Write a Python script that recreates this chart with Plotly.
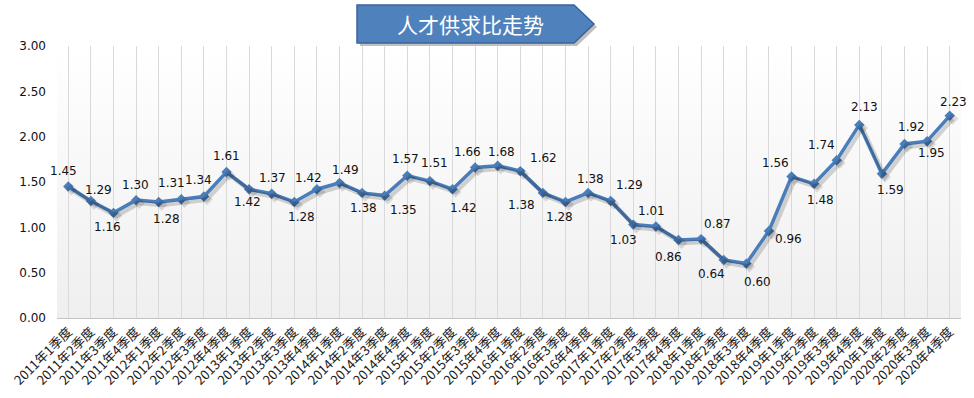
import base64
import plotly.graph_objects as go

years = [2011, 2012, 2013, 2014, 2015, 2016, 2017, 2018, 2019, 2020]
quarters = [1, 2, 3, 4]
categories = [f"{y}年{q}季度" for y in years for q in quarters]

ratio = [1.45, 1.29, 1.16, 1.30,
         1.28, 1.31, 1.34, 1.61,
         1.42, 1.37, 1.28, 1.42,
         1.49, 1.38, 1.35, 1.57,
         1.51, 1.42, 1.66, 1.68,
         1.62, 1.38, 1.28, 1.38,
         1.29, 1.03, 1.01, 0.86,
         0.87, 0.64, 0.60, 0.96,
         1.56, 1.48, 1.74, 2.13,
         1.59, 1.92, 1.95, 2.23]

y_ticks = [0.0, 0.5, 1.0, 1.5, 2.0, 2.5, 3.0]
title_text = "人才供求比走势"

# label offsets in pixels (dx, dy; dy positive = downward) -- style only
label_offsets = [(-5, -16), (8, -11), (-6, 14), (-1, -15),
                 (8, 17), (-10, -16), (-5, -17), (0, -16),
                 (-2, 13), (1, -16), (7, 15), (-8, -11),
                 (6, -13), (1, 15), (19, 14), (-2, -17),
                 (5, -18), (11, 19), (-8, -15), (4, -14),
                 (23, -13), (-21, 12), (-6, 15), (2, -14),
                 (19, -16), (-10, 15), (-4, -15), (-10, 17),
                 (16, -15), (-12, 14), (11, 18), (20, 8),
                 (-16, -14), (6, 16), (-15, -15), (5, -18),
                 (9, 16), (7, -17), (4, 12), (4, -14)]

# plot-area pixel geometry
W, H = 974, 398
L, R, T, B = 57, 13, 46, 80
pw, ph = W - L - R, H - T - B

def px(x):
    return (x - L) / pw

def py(y):
    return (H - B - y) / ph

LINE = "#4a7ebb"
XR = [-0.5, 39.5]
YR = [0, 3]
# shadow offset (pixels) expressed through shifted axis ranges
sdx, sdy = 3, 3
ux = (XR[1] - XR[0]) / pw
uy = (YR[1] - YR[0]) / ph

fig = go.Figure()
fig.add_trace(go.Scatter(
    x=categories, y=ratio, mode="lines+markers", xaxis="x2", yaxis="y2",
    line=dict(color="rgba(0,0,0,0.16)", width=4.5),
    marker=dict(symbol="diamond", size=9, color="rgba(0,0,0,0.12)"),
    hoverinfo="skip", showlegend=False,
))
fig.add_trace(go.Scatter(
    x=categories, y=ratio, mode="lines+markers",
    line=dict(color=LINE, width=3.5),
    marker=dict(symbol="diamond", size=8, color=LINE),
    hoverinfo="x+y", showlegend=False,
))

annotations = []
for c, v, (dx, dy) in zip(categories, ratio, label_offsets):
    annotations.append(dict(
        x=c, y=v, xref="x", yref="y", text=f"{v:.2f}", showarrow=False,
        xshift=dx, yshift=-dy,
        font=dict(family="DejaVu Sans", size=12, color="#111111"),
    ))

# title banner (pentagon arrow)
bx0, bx1, btip, by0, by1 = 357, 574, 594, 5, 43
bym = (by0 + by1) / 2
shadow = f"M {px(bx0+3)},{py(by0+3)} L {px(bx1+3)},{py(by0+3)} L {px(btip+3)},{py(bym+3)} L {px(bx1+3)},{py(by1+3)} L {px(bx0+3)},{py(by1+3)} Z"
banner = f"M {px(bx0)},{py(by0)} L {px(bx1)},{py(by0)} L {px(btip)},{py(bym)} L {px(bx1)},{py(by1)} L {px(bx0)},{py(by1)} Z"
shapes = [
    dict(type="path", xref="paper", yref="paper", path=shadow,
         fillcolor="rgba(0,0,0,0.25)", line=dict(width=0), layer="above"),
    dict(type="path", xref="paper", yref="paper", path=banner,
         fillcolor="#4f81bd", line=dict(color="#3a639a", width=1.5), layer="above"),
]
annotations.append(dict(
    x=px(470), y=py(bym), xref="paper", yref="paper", text=title_text,
    showarrow=False, xanchor="center", yanchor="middle",
    font=dict(family="Noto Sans CJK SC", size=21, color="white"),
))

# gradient background for plot area
svg = ('<svg xmlns="http://www.w3.org/2000/svg" width="100" height="100" preserveAspectRatio="none">'
       '<defs><linearGradient id="g" x1="0" y1="0" x2="0" y2="1">'
       '<stop offset="0" stop-color="#ffffff"/><stop offset="1" stop-color="#efefef"/>'
       '</linearGradient></defs><rect width="100" height="100" fill="url(#g)"/></svg>')
img_src = "data:image/svg+xml;base64," + base64.b64encode(svg.encode()).decode()

fig.update_layout(
    width=W, height=H,
    margin=dict(l=L, r=R, t=T, b=B, pad=0, autoexpand=False),
    paper_bgcolor="white", plot_bgcolor="rgba(0,0,0,0)",
    shapes=shapes, annotations=annotations,
    images=[dict(source=img_src, xref="paper", yref="paper", x=0, y=1,
                 sizex=1, sizey=1, sizing="stretch", layer="below",
                 xanchor="left", yanchor="top")],
    xaxis=dict(
        type="category", range=XR, showgrid=True, gridcolor="#d9d9d9",
        gridwidth=1, showline=True, linecolor="#c4c4c4", linewidth=1,
        ticks="", tickangle=-45, zeroline=False, automargin=False,
        tickfont=dict(family="Noto Sans CJK SC", size=13, color="#1a1a1a"),
    ),
    yaxis=dict(
        range=YR, tickvals=y_ticks, ticktext=[f"{t:.2f}" for t in y_ticks],
        showgrid=False, zeroline=False, showline=False, ticks="",
        ticklabelstandoff=10, automargin=False,
        tickfont=dict(family="DejaVu Sans", size=12, color="#111111"),
    ),
    xaxis2=dict(type="category", overlaying="x", range=[XR[0] - sdx * ux, XR[1] - sdx * ux],
                visible=False, categoryarray=categories, categoryorder="array"),
    yaxis2=dict(overlaying="y", range=[YR[0] + sdy * uy, YR[1] + sdy * uy], visible=False),
)

fig.write_html(
    "out.html",
    config={"displayModeBar": False},
    post_script="document.body.style.margin='0';document.body.style.overflow='hidden';",
)
